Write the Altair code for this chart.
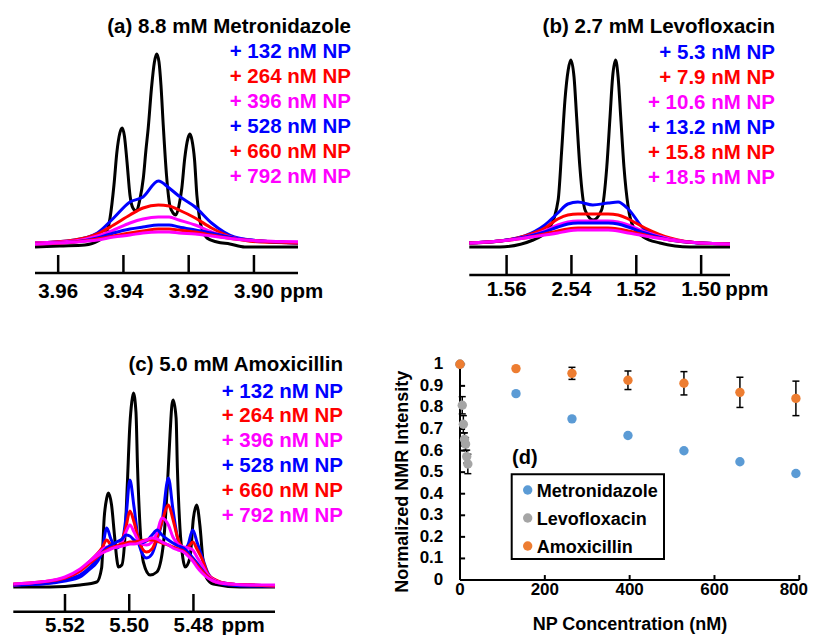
import altair as alt
import pandas as pd

FONT = "Liberation Sans"
BLUE, RED, MAGENTA = "#0000FF", "#FF0000", "#FF00FF"
NP_COLORS = [BLUE, RED, MAGENTA, BLUE, RED, MAGENTA]

# ---------------- Panel (a): 8.8 mM Metronidazole ----------------
A_TITLE = "(a) 8.8 mM Metronidazole"
A_NP_LABELS = ["+ 132 nM NP", "+ 264 nM NP", "+ 396 nM NP", "+ 528 nM NP", "+ 660 nM NP", "+ 792 nM NP"]
A_BLACK_PPM = [3.9671, 3.9595, 3.9518, 3.9478, 3.9454, 3.9441, 3.9429, 3.9420, 3.9411, 3.9404,
               3.9397, 3.9389, 3.9380, 3.9371, 3.9360, 3.9350, 3.9339, 3.9331, 3.9324, 3.9314,
               3.9305, 3.9298, 3.9291, 3.9285, 3.9278, 3.9268, 3.9258, 3.9248, 3.9239, 3.9230,
               3.9221, 3.9212, 3.9202, 3.9196, 3.9190, 3.9182, 3.9175, 3.9166, 3.9156, 3.9144,
               3.9113, 3.9074, 3.9028, 3.8865]
A_BLACK_INT = [0, 1, 2, 6, 13, 29, 62, 95, 114, 119,
               111, 85, 52, 39, 36, 47, 69, 97, 119, 159,
               185, 193, 185, 162, 122, 72, 42, 34, 32, 41,
               59, 89, 109, 113, 107, 87, 52, 27, 15, 9,
               5, 3, 0, 0]
A_GRID_PPM = [3.9671, 3.9550, 3.9480, 3.9430, 3.9380, 3.9340, 3.9293, 3.9260, 3.9230, 3.9180,
              3.9130, 3.9060, 3.8980, 3.8865]
A_NP132 = [4, 7, 14, 29, 45, 50, 66, 59, 51, 40, 24, 10, 6, 4]
A_NP264 = [4, 7, 13, 22, 32, 39, 42, 41, 37, 29, 19, 9, 5, 4]
A_NP396 = [4, 6, 11, 17, 24, 28, 30, 30, 27, 22, 15, 9, 6, 5]
A_NP528 = [3, 5, 9, 14, 18, 20, 22, 22, 20, 17, 14, 9, 6, 4]
A_NP660 = [3, 5, 8, 11, 14, 16, 18, 18, 17, 15, 12, 8, 6, 4]
A_NP792 = [3, 5, 7, 10, 12, 14, 15, 15, 14, 13, 11, 8, 6, 5]
A_TICKS = [3.96, 3.94, 3.92, 3.90]
A_TICK_LABELS = ["3.96", "3.94", "3.92", "3.90"]

# ---------------- Panel (b): 2.7 mM Levofloxacin ----------------
B_TITLE = "(b) 2.7 mM Levofloxacin"
B_NP_LABELS = ["+ 5.3 nM NP", "+ 7.9 nM NP", "+ 10.6 nM NP", "+ 13.2 nM NP", "+ 15.8 nM NP", "+ 18.5 nM NP"]
B_BLACK_PPM = [1.5715, 1.5621, 1.5518, 1.5466, 1.5441, 1.5430, 1.5420, 1.5410, 1.5402, 1.5392,
               1.5384, 1.5374, 1.5358, 1.5333, 1.5307, 1.5291, 1.5281, 1.5273, 1.5264, 1.5256,
               1.5248, 1.5238, 1.5225, 1.5209, 1.5178, 1.5127, 1.5034, 1.4911]
B_BLACK_INT = [0, 0, 7, 20, 47, 97, 147, 177, 187, 170,
               130, 80, 37, 27, 37, 80, 130, 170, 187, 170,
               130, 80, 40, 20, 10, 4, 0, 0]
B_GRID_PPM = [1.5715, 1.5621, 1.5544, 1.5482, 1.5442, 1.5411, 1.5380, 1.5334, 1.5287, 1.5256,
              1.5225, 1.5173, 1.5096, 1.5003, 1.4911]
B_NP53 = [4, 6, 11, 22, 34, 43, 45, 42, 44, 45, 38, 17, 8, 4, 3]
B_NP79 = [4, 6, 11, 19, 28, 32, 33, 33, 33, 32, 28, 19, 9, 4, 3]
B_NP106 = [4, 6, 10, 16, 22, 25, 26, 26, 26, 25, 22, 15, 8, 4, 3]
B_NP132 = [4, 6, 10, 15, 20, 23, 24, 24, 24, 23, 20, 14, 7, 4, 3]
B_NP158 = [4, 6, 9, 13, 16, 18, 19, 19, 19, 18, 16, 12, 7, 4, 3]
B_NP185 = [4, 6, 9, 12, 14, 16, 17, 17, 17, 16, 14, 11, 7, 4, 3]
B_TICKS = [1.56, 1.54, 1.52, 1.50]
B_TICK_LABELS = ["1.56", "2.54", "1.52", "1.50"]

# ---------------- Panel (c): 5.0 mM Amoxicillin ----------------
C_TITLE = "(c) 5.0 mM Amoxicillin"
C_NP_LABELS = ["+ 132 nM NP", "+ 264 nM NP", "+ 396 nM NP", "+ 528 nM NP", "+ 660 nM NP", "+ 792 nM NP"]
C_BLACK_PPM = [5.5361, 5.5247, 5.5153, 5.5101, 5.5086, 5.5078, 5.5070, 5.5065, 5.5055, 5.5046,
               5.5039, 5.5034, 5.5023, 5.5013, 5.5006, 5.4998, 5.4992, 5.4987, 5.4979, 5.4974,
               5.4966, 5.4956, 5.4935, 5.4914, 5.4894, 5.4881, 5.4873, 5.4867, 5.4863, 5.4854,
               5.4850, 5.4842, 5.4833, 5.4826, 5.4811, 5.4800, 5.4790, 5.4780, 5.4771, 5.4759,
               5.4738, 5.4655, 5.4546]
C_BLACK_INT = [0, 0, 2, 5, 19, 69, 89, 94, 82, 52,
               29, 20, 22, 52, 102, 162, 185, 194, 175, 119,
               59, 25, 12, 15, 42, 102, 152, 182, 187, 169,
               119, 59, 29, 20, 29, 69, 82, 62, 29, 9,
               3, 0, 0]
C_GRID_PPM = [5.5361, 5.5278, 5.5200, 5.5153, 5.5122, 5.5100, 5.5085, 5.5070, 5.5057, 5.5039,
              5.5022, 5.5010, 5.4998, 5.4985, 5.4969, 5.4946, 5.4929, 5.4913, 5.4898, 5.4878,
              5.4864, 5.4848, 5.4831, 5.4817, 5.4802, 5.4789, 5.4773, 5.4755, 5.4730, 5.4686,
              5.4624, 5.4546]
C_NP132 = [2, 3, 6, 10, 18, 25, 35, 59, 48, 39, 45, 70, 107, 80, 42, 29, 33, 48, 65, 109,
           78, 47, 37, 42, 57, 45, 30, 14, 6, 3, 2, 1]
C_NP264 = [2, 4, 8, 17, 26, 33, 39, 47, 42, 40, 47, 60, 76, 65, 45, 35, 38, 50, 65, 82,
           68, 48, 39, 40, 45, 38, 28, 13, 7, 3, 2, 1]
C_NP396 = [2, 4, 8, 16, 26, 33, 37, 40, 40, 40, 45, 55, 62, 55, 45, 42, 45, 55, 69, 62,
           50, 43, 40, 39, 37, 30, 22, 12, 6, 3, 2, 1]
C_NP528 = [2, 3, 7, 12, 20, 28, 34, 39, 42, 45, 48, 52, 51, 47, 44, 46, 52, 57, 52, 47,
           44, 41, 39, 35, 29, 24, 17, 10, 5, 2, 1, 1]
C_NP660 = [3, 5, 9, 16, 24, 30, 34, 37, 39, 41, 43, 44, 45, 45, 46, 47, 47, 46, 44, 42,
           40, 38, 36, 32, 27, 22, 16, 10, 5, 3, 2, 1]
C_NP792 = [3, 5, 10, 18, 26, 31, 34, 36, 38, 40, 41, 42, 43, 43, 44, 47, 49, 48, 45, 42,
           39, 37, 35, 31, 26, 20, 14, 9, 5, 3, 2, 2]
C_TICKS = [5.52, 5.50, 5.48]
C_TICK_LABELS = ["5.52", "5.50", "5.48"]

# ---------------- Panel (d): normalized intensity ----------------
D_SERIES = ["Metronidazole", "Levofloxacin", "Amoxicillin"]
D_COLORS = ["#5B9BD5", "#A5A5A5", "#ED7D31"]
MET_CONC = [0, 132, 264, 396, 528, 660, 792]
MET_VAL = [1.0, 0.864, 0.747, 0.670, 0.599, 0.548, 0.494]
LEVO_CONC = [0, 5.3, 7.9, 10.6, 13.2, 15.8, 18.5]
LEVO_VAL = [1.0, 0.810, 0.722, 0.652, 0.630, 0.572, 0.538]
LEVO_ERR = [0, 0.04, 0.04, 0.03, 0.03, 0.03, 0.045]
AMOX_CONC = [0, 132, 264, 396, 528, 660, 792]
AMOX_VAL = [1.0, 0.980, 0.958, 0.926, 0.912, 0.870, 0.842]
AMOX_ERR = [0, 0, 0.028, 0.043, 0.054, 0.070, 0.080]
D_XTICKS = [0, 200, 400, 600, 800]
D_YTICKS = [0, 0.1, 0.2, 0.3, 0.4, 0.5, 0.6, 0.7, 0.8, 0.9, 1.0]
D_YTICK_LABELS = ["0", "0.1", "0.2", "0.3", "0.4", "0.5", "0.6", "0.7", "0.8", "0.9", "1"]

TEXT_DY = 1.5  # small downward nudge for text baselines


def one():
    return pd.DataFrame({"k": [0]})


def txt(s, x, y, color="black", size=20.5, align="right", angle=None):
    kw = dict(text=s, font=FONT, fontSize=size, fontWeight="bold", color=color,
              align=align, baseline="middle")
    if angle is not None:
        kw["angle"] = angle
    return alt.Chart(one()).mark_text(**kw).encode(x=alt.value(x), y=alt.value(y))


def spectrum(black_ppm, black_int, grid_ppm, np_series, x_lo, x_hi, px_left, px_right,
             base, axis_lvl, tick_lvl, label_lvl, ticks, tick_labels, ppm_dx,
             title, np_labels, text_right, title_y, first_y, step):
    xs = alt.Scale(domain=[x_lo, x_hi], range=[px_right, px_left], nice=False, zero=False)
    ys = alt.Scale(domain=[-60, 200], range=[base + 60, base - 200], nice=False, zero=False)

    def X(f):
        return alt.X(f, type="quantitative", scale=xs, axis=None)

    def Y(f):
        return alt.Y(f, type="quantitative", scale=ys, axis=None)

    layers = [alt.Chart(pd.DataFrame({"ppm": black_ppm, "inten": black_int}))
              .mark_line(color="black", strokeWidth=3, interpolate="monotone")
              .encode(x=X("ppm"), y=Y("inten"))]
    for vals, col in zip(np_series, NP_COLORS):
        layers.append(alt.Chart(pd.DataFrame({"ppm": grid_ppm, "inten": vals}))
                      .mark_line(color=col, strokeWidth=3, interpolate="monotone")
                      .encode(x=X("ppm"), y=Y("inten")))
    tick_df = pd.DataFrame({"t": ticks, "lab": tick_labels})
    layers.append(alt.Chart(one()).mark_rule(color="black", strokeWidth=2.5).encode(
        x=alt.XDatum(x_lo, scale=xs, axis=None), x2=alt.X2Datum(x_hi),
        y=alt.YDatum(axis_lvl, scale=ys, axis=None)))
    layers.append(alt.Chart(tick_df).mark_rule(color="black", strokeWidth=2.5).encode(
        x=X("t"), y=alt.YDatum(axis_lvl, scale=ys, axis=None), y2=alt.Y2Datum(tick_lvl)))
    layers.append(alt.Chart(tick_df).mark_text(font=FONT, fontSize=20.5, fontWeight="bold",
                                               baseline="middle", color="black").encode(
        x=X("t"), y=alt.YDatum(label_lvl, scale=ys, axis=None), text="lab:N"))
    layers.append(alt.Chart(one()).mark_text(text="ppm", font=FONT, fontSize=20.5, fontWeight="bold",
                                             align="left", baseline="middle", dx=ppm_dx, color="black").encode(
        x=alt.XDatum(ticks[-1], scale=xs, axis=None), y=alt.YDatum(label_lvl, scale=ys, axis=None)))
    layers.append(txt(title, text_right, title_y + TEXT_DY))
    for i, (lab, col) in enumerate(zip(np_labels, NP_COLORS)):
        layers.append(txt(lab, text_right, first_y + step * i + TEXT_DY, color=col))
    return alt.layer(*layers)


# chart coordinates = page coordinates - 8
panel_a = spectrum(A_BLACK_PPM, A_BLACK_INT, A_GRID_PPM,
                   [A_NP132, A_NP264, A_NP396, A_NP528, A_NP660, A_NP792],
                   3.8865, 3.9671, 27, 290, 239, -26, -8, -45, A_TICKS, A_TICK_LABELS, 26,
                   A_TITLE, A_NP_LABELS, 343, 17.7, 42.3, 25)
panel_b = spectrum(B_BLACK_PPM, B_BLACK_INT, B_GRID_PPM,
                   [B_NP53, B_NP79, B_NP106, B_NP132, B_NP158, B_NP185],
                   1.4911, 1.5715, 461.3, 722, 239, -28, -8, -43, B_TICKS, B_TICK_LABELS, 24,
                   B_TITLE, B_NP_LABELS, 767, 17, 43.5, 25)
panel_c = spectrum(C_BLACK_PPM, C_BLACK_INT, C_GRID_PPM,
                   [C_NP132, C_NP264, C_NP396, C_NP528, C_NP660, C_NP792],
                   5.4546, 5.5361, 5.3, 267, 579, -24.7, -7, -38.5, C_TICKS, C_TICK_LABELS, 28,
                   C_TITLE, C_NP_LABELS, 335, 355.3, 382, 24.8)

# ---- panel (d) ----
xs_d = alt.Scale(domain=[0, 800], range=[452, 791.3], nice=False, zero=False)
ys_d = alt.Scale(domain=[0, 1], range=[572, 356.3], nice=False, zero=False)


def XD(f):
    return alt.X(f, type="quantitative", scale=xs_d, axis=None)


def YD(f):
    return alt.Y(f, type="quantitative", scale=ys_d, axis=None)


def err_df(conc, val, err):
    rows = [(c, v - e, v + e) for c, v, e in zip(conc, val, err) if e > 0]
    return pd.DataFrame(rows, columns=["conc", "lo", "hi"])


def cap_df(conc, val, err):
    rows = []
    for c, v, e in zip(conc, val, err):
        if e > 0:
            rows += [(c, v - e), (c, v + e)]
    return pd.DataFrame(rows, columns=["conc", "y"])


d_layers = []
# axes
d_layers.append(alt.Chart(one()).mark_rule(color="black", strokeWidth=2).encode(
    x=alt.XDatum(0, scale=xs_d, axis=None), x2=alt.X2Datum(800),
    y=alt.YDatum(0, scale=ys_d, axis=None)))
d_layers.append(alt.Chart(one()).mark_rule(color="black", strokeWidth=2).encode(
    x=alt.XDatum(0, scale=xs_d, axis=None),
    y=alt.YDatum(0, scale=ys_d, axis=None), y2=alt.Y2Datum(1)))
xt = pd.DataFrame({"t": D_XTICKS, "lab": [str(v) for v in D_XTICKS]})
yt = pd.DataFrame({"t": D_YTICKS, "lab": D_YTICK_LABELS})
d_layers.append(alt.Chart(xt).mark_rule(color="black", strokeWidth=2).encode(
    x=XD("t"), y=alt.YDatum(0, scale=ys_d, axis=None), y2=alt.Y2Datum(0.023)))
d_layers.append(alt.Chart(yt).mark_rule(color="black", strokeWidth=2).encode(
    y=YD("t"), x=alt.XDatum(0, scale=xs_d, axis=None), x2=alt.X2Datum(12)))
# x tick labels (the last one is kept inside the page edge)
d_layers.append(alt.Chart(xt.iloc[:-1]).mark_text(font=FONT, fontSize=17, fontWeight="bold",
                                                  baseline="middle", color="black").encode(
    x=XD("t"), y=alt.value(582), text="lab:N"))
d_layers.append(alt.Chart(xt.iloc[-1:]).mark_text(font=FONT, fontSize=17, fontWeight="bold",
                                                  baseline="middle", align="right", color="black").encode(
    x=alt.value(800), y=alt.value(582), text="lab:N"))
d_layers.append(alt.Chart(yt).mark_text(font=FONT, fontSize=17, fontWeight="bold", align="right",
                                        baseline="middle", color="black").encode(
    y=YD("t"), x=alt.value(435.3), text="lab:N"))
# error bars
for conc, val, err in [(LEVO_CONC, LEVO_VAL, LEVO_ERR), (AMOX_CONC, AMOX_VAL, AMOX_ERR)]:
    d_layers.append(alt.Chart(err_df(conc, val, err)).mark_rule(color="black", strokeWidth=1.5).encode(
        x=XD("conc"), y=YD("lo"), y2="hi"))
    d_layers.append(alt.Chart(cap_df(conc, val, err)).mark_point(
        shape="M-1,0L1,0", size=49, stroke="black", strokeWidth=1.5, filled=False, opacity=1).encode(
        x=XD("conc"), y=YD("y")))
# points
for conc, val, col in [(MET_CONC, MET_VAL, D_COLORS[0]), (LEVO_CONC, LEVO_VAL, D_COLORS[1]),
                       (AMOX_CONC, AMOX_VAL, D_COLORS[2])]:
    d_layers.append(alt.Chart(pd.DataFrame({"conc": conc, "val": val})).mark_point(
        filled=True, size=88, opacity=1, color=col, strokeWidth=0).encode(x=XD("conc"), y=YD("val")))
# titles
d_layers.append(txt("NP Concentration (nM)", 622, 617, size=18, align="center"))
d_layers.append(txt("Normalized NMR Intensity", 395.3, 473.7, size=18, align="center", angle=270))
d_layers.append(txt("(d)", 504, 448.7 + TEXT_DY, size=20, align="left"))
# legend
d_layers.append(alt.Chart(one()).mark_rect(fill="white", stroke="black", strokeWidth=2).encode(
    x=alt.value(503.7), x2=alt.value(656), y=alt.value(466.3), y2=alt.value(551)))
for i, (name, col) in enumerate(zip(D_SERIES, D_COLORS)):
    yy = 482 + 28 * i
    d_layers.append(alt.Chart(one()).mark_point(filled=True, size=88, opacity=1, color=col,
                                                strokeWidth=0).encode(
        x=alt.value(519.7), y=alt.value(yy)))
    d_layers.append(txt(name, 528.7, yy + TEXT_DY, size=18, align="left"))
panel_d = alt.layer(*d_layers)

chart = (alt.layer(panel_a, panel_b, panel_c, panel_d)
         .resolve_scale(x="independent", y="independent")
         .properties(width=800, height=627, padding=0,
                     autosize=alt.AutoSizeParams(type="none"), background="white")
         .configure_view(stroke=None))

chart.save("out.html", embed_options={"renderer": "svg", "actions": False})
